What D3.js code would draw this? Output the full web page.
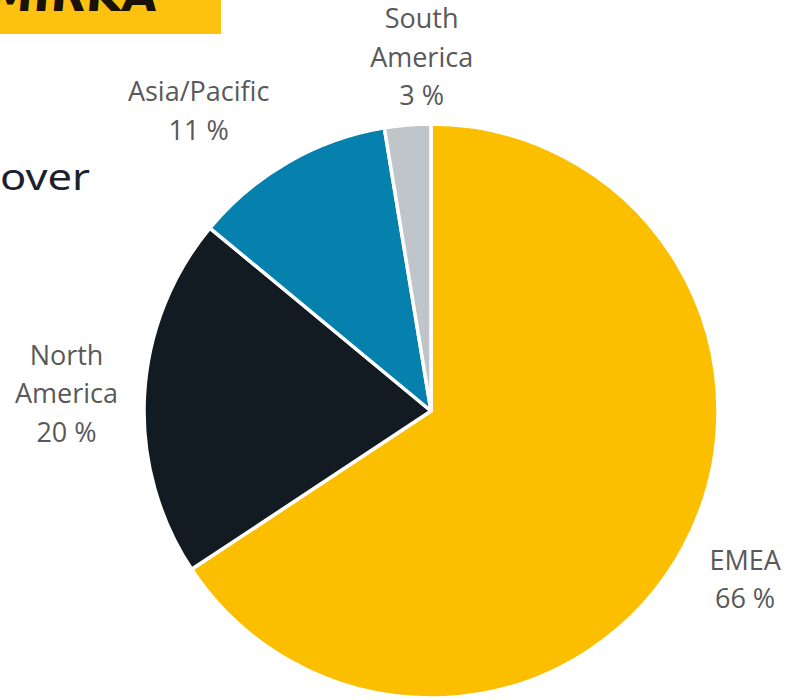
<!DOCTYPE html>
<html><head><meta charset="utf-8">
<script src="https://cdn.jsdelivr.net/npm/d3@7"></script>
<style>html,body{margin:0;padding:0;background:#fff;overflow:hidden}</style>
</head><body>
<svg id="chart" width="787" height="700"></svg>
<script>
const regions = ["EMEA", "North America", "Asia/Pacific", "South America"];
const shares = [65.7, 20.3, 11.4, 2.6];
const labelLines = [["EMEA"], ["North", "America"], ["Asia/Pacific"], ["South", "America"]];
const colors = ["#FCBF00", "#131B22", "#0680AD", "#BFC5C8"];

const svg = d3.select("#chart");

// slide fragments
svg.append("rect").attr("x", 0).attr("y", 0).attr("width", 221).attr("height", 34).attr("fill", "#FDC10F");
svg.append("text").attr("x", 157).attr("y", 11).attr("text-anchor", "end")
  .attr("font-family", "DejaVu Sans").attr("font-weight", "bold").attr("font-size", 46)
  .attr("fill", "#1a1208").attr("transform", "skewX(-5)").text("MIRKA");
svg.append("text").attr("x", 0).attr("y", 190).attr("text-anchor", "start")
  .attr("font-family", "Noto Sans").attr("font-size", 37)
  .attr("textLength", 90).attr("lengthAdjust", "spacingAndGlyphs")
  .attr("fill", "#1B2130").text("over");

const cx = 431, cy = 411, r = 287;
const data = regions.map((n, i) => ({name: n, value: shares[i], lines: labelLines[i], color: colors[i]}));
const pie = d3.pie().sort(null).value(d => d.value);
const arcs = pie(data);
const arc = d3.arc().innerRadius(0).outerRadius(r);
const labelArc = d3.arc().innerRadius(360).outerRadius(360);

const g = svg.append("g").attr("transform", `translate(${cx},${cy})`);
g.selectAll("path").data(arcs).join("path")
  .attr("d", arc).attr("fill", d => d.data.color)
  .attr("stroke", "#fff").attr("stroke-width", 3.5).attr("stroke-linejoin", "round");

const nudge = [[-3, -2], [-5, 2], [-53, 12], [20, 5]];
const lh = 38.5;
arcs.forEach((a, i) => {
  const [x, y] = labelArc.centroid(a);
  const lines = a.data.lines.concat([Math.round(a.data.value) + " %"]);
  const t = g.append("text").attr("text-anchor", "middle")
    .attr("font-family", "Open Sans").attr("font-size", 27).attr("fill", "#595959");
  const y0 = y + nudge[i][1] - (lines.length - 1) * lh / 2;
  lines.forEach((l, k) => {
    t.append("tspan").attr("x", x + nudge[i][0]).attr("y", y0 + k * lh).attr("dy", "0.35em").text(l);
  });
});
</script>
</body></html>
